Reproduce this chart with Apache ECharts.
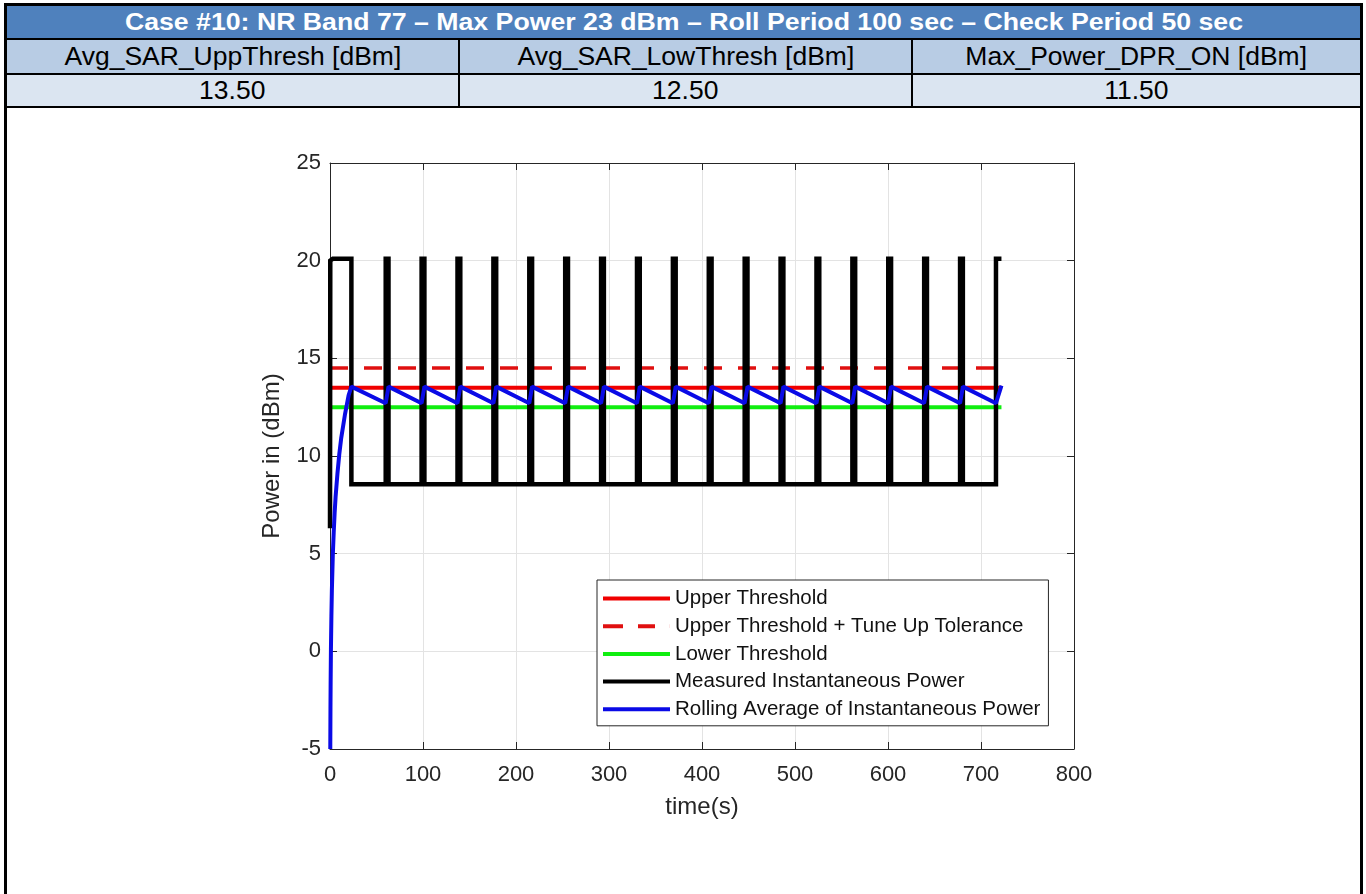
<!DOCTYPE html>
<html>
<head>
<meta charset="utf-8">
<title>Case #10: NR Band 77</title>
<script src="https://cdn.jsdelivr.net/npm/echarts@6/dist/echarts.min.js"></script>
<style>
  html, body { margin: 0; padding: 0; background: #fff; }
  body { width: 1366px; height: 894px; position: relative; overflow: hidden;
         font-family: "Liberation Sans", Arial, sans-serif; }
  .frame { position: absolute; left: 4px; top: 3px; width: 1353px; height: 900px;
           border: 3px solid #000; border-bottom: none; }
  .row { position: absolute; left: 0; width: 1353px; }
  .hline { position: absolute; left: 0; width: 1353px; height: 2px; background: #000; }
  .vline { position: absolute; width: 2px; background: #000; }
  .cell { position: absolute; text-align: center; color: #000; white-space: nowrap; }
  .cell span { display: inline-block; }
  #chart { position: absolute; left: 0; top: 0; width: 1366px; height: 894px; }
</style>
</head>
<body>
<div class="frame">
  <div class="row" id="titleRow" style="top:0; height:32px; background:#4f81bd;"></div>
  <div class="hline" style="top:32px;"></div>
  <div class="row" id="headRow" style="top:34px; height:33px; background:#b8cce4;"></div>
  <div class="hline" style="top:67px;"></div>
  <div class="row" id="valueRow" style="top:69px; height:31px; background:#dbe5f1;"></div>
  <div class="hline" style="top:100px;"></div>
  <div class="vline" style="left:451px; top:34px; height:66px;"></div>
  <div class="vline" style="left:904px; top:34px; height:66px;"></div>
</div>
<div id="chart"></div>
<script>
// Table texts
const caseTitle = 'Case #10: NR Band 77 \u2013 Max Power 23 dBm \u2013 Roll Period 100 sec \u2013 Check Period 50 sec';
const paramNames = ['Avg_SAR_UppThresh [dBm]', 'Avg_SAR_LowThresh [dBm]', 'Max_Power_DPR_ON [dBm]'];
const paramValues = ['13.50', '12.50', '11.50'];

// Axis ticks
const xTickMin = 0, xTickMax = 800, xTickStep = 100;
const yTickMin = -5, yTickMax = 25, yTickStep = 5;

// Threshold levels (dBm) and the time span they are drawn over (s)
const upperThreshold = 13.5;
const tuneUpThreshold = 14.5;
const lowerThreshold = 12.5;
const thresholdSpan = [0, 722];

// Measured instantaneous power (dBm)
const startLevel = 6.3;
const highLevel = 20.1;
const lowLevel = 8.55;
const firstPulseEnd = 23;
const pulseStart = [59.9, 98.5, 137.1, 175.7, 214.3, 252.9, 291.5, 330.1, 368.7,
                    407.3, 445.9, 484.5, 523.1, 561.7, 600.3, 638.9, 677.5, 716.1];
const pulseEnd   = [62.9, 101.5, 140.1, 178.7, 217.3, 255.9, 294.5, 333.1, 371.7,
                    410.3, 448.9, 487.5, 526.1, 564.7, 603.3, 641.9, 680.5, 722.0];

// Rolling average: initial climb [t, dBm], then trough/peak at each pulse
const avgClimb = [[0.3, -5], [0.5, -2.9], [0.7, -1.5], [1, 0.1], [1.5, 1.8], [2, 3.1],
                  [3, 4.9], [4, 6.1], [5, 7.1], [6, 7.9], [8, 9.1], [10, 10.1],
                  [12, 10.9], [14, 11.5], [16, 12.1], [18, 12.6], [20, 13.1], [23, 13.55]];
const avgTrough = [12.7, 12.7, 12.7, 12.7, 12.7, 12.7, 12.7, 12.7, 12.7,
                   12.7, 12.7, 12.7, 12.7, 12.7, 12.7, 12.7, 12.7, 12.7];
const avgPeak   = [13.55, 13.55, 13.55, 13.55, 13.55, 13.55, 13.55, 13.55, 13.55,
                   13.55, 13.55, 13.55, 13.55, 13.55, 13.55, 13.55, 13.55, 13.6];

// ---- table ----
function addCell(rowId, text, left, width, css, stretch) {
  const row = document.getElementById(rowId);
  const d = document.createElement('div');
  d.className = 'cell';
  d.style.left = left + 'px';
  d.style.width = width + 'px';
  d.style.top = '0px';
  d.style.height = row.style.height;
  d.style.lineHeight = row.style.height;
  Object.assign(d.style, css);
  const s = document.createElement('span');
  s.textContent = text;
  s.style.transform = 'scaleX(' + stretch + ')';
  d.appendChild(s);
  row.appendChild(d);
}
addCell('titleRow', caseTitle, 0, 1353, { color: '#fff', fontWeight: 'bold', fontSize: '23px' }, 1.16);
const colLeft = [0, 453, 906];
const colWidth = [451, 451, 447];
paramNames.forEach((t, i) => addCell('headRow', t, colLeft[i], colWidth[i], { fontSize: '25px' }, 1.06));
paramValues.forEach((t, i) => addCell('valueRow', t, colLeft[i], colWidth[i], { fontSize: '25px' }, 1.06));

// ---- series data ----
const measured = [[0, startLevel], [0.3, highLevel - 0.1], [3, highLevel],
                  [firstPulseEnd, highLevel], [firstPulseEnd, lowLevel]];
pulseStart.forEach((s, i) => {
  const e = pulseEnd[i];
  measured.push([s, lowLevel], [s, highLevel], [e, highLevel]);
  if (i < pulseStart.length - 1) measured.push([e, lowLevel]);
});

const rolling = avgClimb.slice();
pulseStart.forEach((s, i) => {
  rolling.push([s, avgTrough[i]], [pulseEnd[i], avgPeak[i]]);
});

const flat = v => [[thresholdSpan[0], v], [thresholdSpan[1], v]];

const font = '"Liberation Sans", Arial, sans-serif';
const axisColor = '#262626';
const solidIcon = 'rect';
const dashedIcon = 'path://M0,0H20V4H0Z M35,0H52V4H35Z M66.9,0H67V4H66.9Z';

const boxAxis = (extra) => Object.assign({
  type: 'value',
  axisLine: { show: true, onZero: false, lineStyle: { color: axisColor, width: 1 } },
  axisTick: { show: true, inside: true, length: 7, lineStyle: { color: axisColor } },
  axisLabel: { show: false },
  splitLine: { show: false }
}, extra);

const chart = echarts.init(document.getElementById('chart'), null, { renderer: 'canvas' });
chart.setOption({
  animation: false,
  backgroundColor: 'transparent',
  grid: { left: 330, top: 163, width: 744, height: 586, containLabel: false },
  xAxis: [
    boxAxis({
      position: 'bottom',
      min: xTickMin, max: xTickMax, interval: xTickStep,
      name: 'time(s)', nameLocation: 'middle', nameGap: 46,
      nameTextStyle: { fontFamily: font, fontSize: 24, color: axisColor },
      axisLabel: { show: true, margin: 15, fontFamily: font, fontSize: 22, color: axisColor },
      splitLine: { show: true, lineStyle: { color: '#e3e3e3', width: 1 } }
    }),
    boxAxis({ position: 'top', min: xTickMin, max: xTickMax, interval: xTickStep })
  ],
  yAxis: [
    boxAxis({
      position: 'left',
      min: yTickMin, max: yTickMax, interval: yTickStep,
      name: 'Power in (dBm)', nameLocation: 'middle', nameGap: 46,
      nameTextStyle: { fontFamily: font, fontSize: 24, color: axisColor },
      axisLabel: { show: true, margin: 9, fontFamily: font, fontSize: 22, color: axisColor },
      splitLine: { show: true, lineStyle: { color: '#e3e3e3', width: 1 } }
    }),
    boxAxis({ position: 'right', min: yTickMin, max: yTickMax, interval: yTickStep })
  ],
  legend: {
    orient: 'vertical',
    left: 597, top: 580,
    padding: [8, 8, 6, 6],
    itemWidth: 67, itemHeight: 4, itemGap: 6.7,
    backgroundColor: '#fff',
    borderColor: '#262626', borderWidth: 1,
    textStyle: { fontFamily: font, fontSize: 20.5, lineHeight: 20, color: '#111' },
    data: [
      { name: 'Upper Threshold', icon: solidIcon },
      { name: 'Upper Threshold + Tune Up Tolerance', icon: dashedIcon },
      { name: 'Lower Threshold', icon: solidIcon },
      { name: 'Measured Instantaneous Power', icon: solidIcon },
      { name: 'Rolling Average of Instantaneous Power', icon: solidIcon }
    ]
  },
  series: [
    { name: 'Upper Threshold', type: 'line', data: flat(upperThreshold), symbol: 'none',
      lineStyle: { color: '#f00000', width: 4 }, itemStyle: { color: '#f00000' } },
    { name: 'Upper Threshold + Tune Up Tolerance', type: 'line', data: flat(tuneUpThreshold), symbol: 'none',
      lineStyle: { color: '#e01010', width: 3.5, type: [18, 16] }, itemStyle: { color: '#e01010' } },
    { name: 'Lower Threshold', type: 'line', data: flat(lowerThreshold), symbol: 'none',
      lineStyle: { color: '#10ee10', width: 4 }, itemStyle: { color: '#10ee10' } },
    { name: 'Measured Instantaneous Power', type: 'line', data: measured, symbol: 'none',
      lineStyle: { color: '#000', width: 4.5, join: 'miter' }, itemStyle: { color: '#000' } },
    { name: 'Rolling Average of Instantaneous Power', type: 'line', data: rolling, symbol: 'none',
      lineStyle: { color: '#0a0ae6', width: 4 }, itemStyle: { color: '#0a0ae6' } }
  ]
});
</script>
</body>
</html>
